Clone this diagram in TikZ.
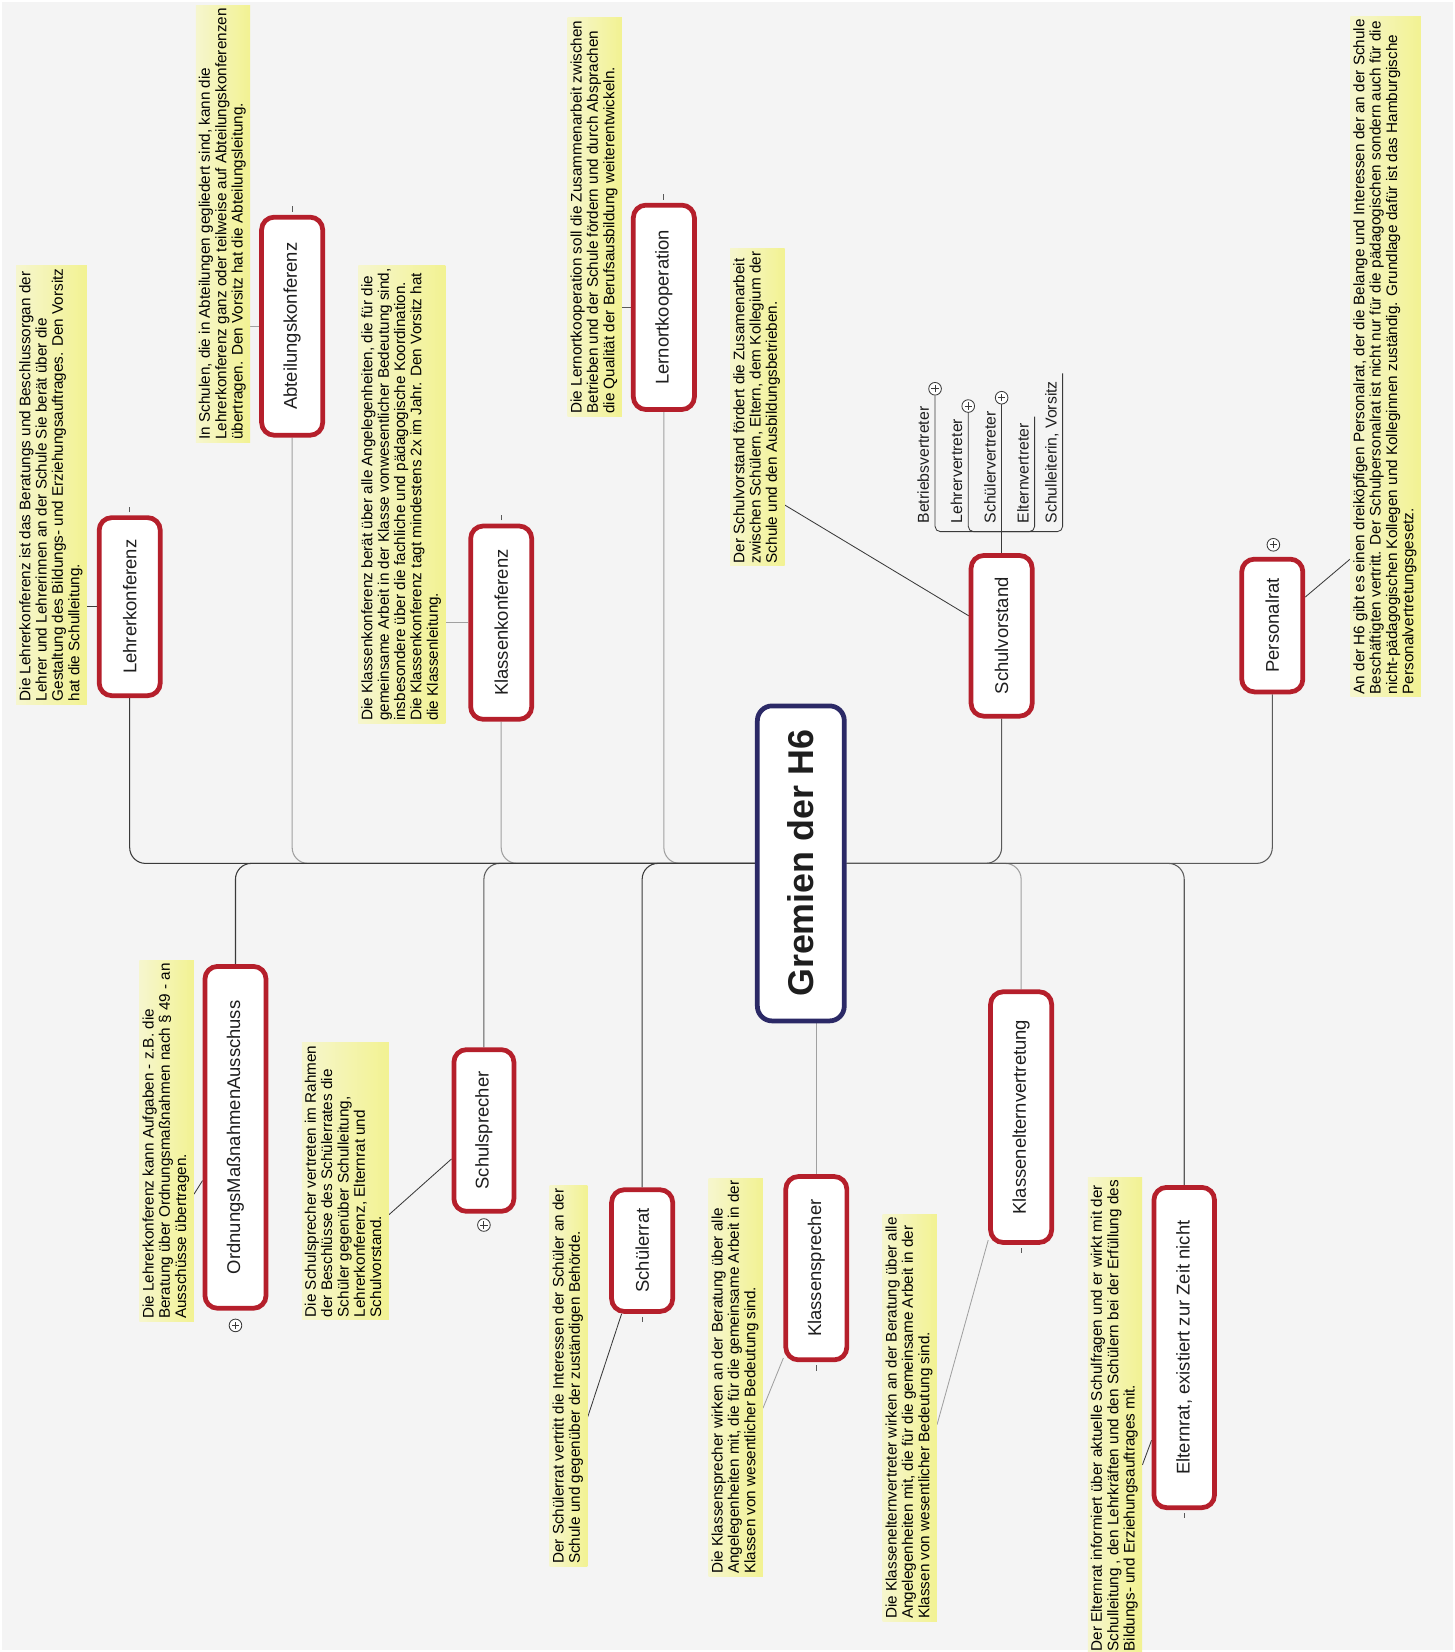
\documentclass[tikz,border=0pt]{standalone}
\usepackage{fontspec}
\setmainfont{Liberation Sans}
\usepackage{graphicx}
\definecolor{bgc}{HTML}{F4F4F4}
\definecolor{redc}{HTML}{B51F2B}
\definecolor{navyc}{HTML}{2B2966}
\definecolor{noteL}{HTML}{F6F6CE}
\definecolor{noteR}{HTML}{F2F292}
\definecolor{darkln}{HTML}{3A3A3A}
\definecolor{grayln}{HTML}{A0A0A0}
\definecolor{midln}{HTML}{5A5A5A}
\definecolor{txtc}{HTML}{1E1E1E}
\pgfdeclarelayer{back}
\pgfsetlayers{back,main}
\newcommand{\vtxt}[1]{\rotatebox{90}{\begin{tabular}{@{}l@{}}#1\end{tabular}}}
\newcommand{\vlab}[1]{\rotatebox{90}{#1}}
\begin{document}
\begin{tikzpicture}[x=1pt,y=-1pt,
  redbox/.style={draw=redc, line width=4.5pt, fill=white, rounded corners=12pt, inner sep=0pt, text=txtc, font=\fontsize{17.5}{20}\selectfont},
  notebox/.style={left color=noteL, right color=noteR, inner sep=2.5pt, text=black, font=\fontsize{14.5}{15.5}\selectfont},
  childtxt/.style={inner sep=0pt, text=txtc, font=\fontsize{15}{17}\selectfont},
  plusnode/.style={circle, draw=darkln, fill=white, line width=0.8pt, minimum size=12pt, inner sep=0pt,
    path picture={\draw[line width=0.8pt] ([xshift=-3.5pt]path picture bounding box.center) -- ([xshift=3.5pt]path picture bounding box.center);
                  \draw[line width=0.8pt] ([yshift=-3.5pt]path picture bounding box.center) -- ([yshift=3.5pt]path picture bounding box.center);}},
  branch/.style={line width=1pt, rounded corners=15pt},
  nlink/.style={line width=0.8pt},
  chl/.style={line width=0.8pt, draw=darkln, rounded corners=5pt},
  stub/.style={line width=0.9pt, draw=midln}]
\useasboundingbox (0,0) rectangle (1381,1568);
\clip (0,0) rectangle (1381,1568);

% central node
\node[redbox, draw=navyc, minimum width=82.5pt, minimum height=299pt, rounded corners=14pt, font=\bfseries\fontsize{34}{38}\selectfont] (gr) at (760.1,819.5) {\vlab{Gremien der H6}};

% red boxes
\node[redbox, minimum width=58pt, minimum height=169pt] (lk) at (123.1,575.8) {\vlab{Lehrerkonferenz}};
\node[redbox, minimum width=58pt, minimum height=207pt] (ak) at (277.3,309.6) {\vlab{Abteilungskonferenz}};
\node[redbox, minimum width=58pt, minimum height=183.5pt] (kk) at (475.7,591) {\vlab{Klassenkonferenz}};
\node[redbox, minimum width=58pt, minimum height=194pt] (lo) at (630.1,291.7) {\vlab{Lernortkooperation}};
\node[redbox, minimum width=58pt, minimum height=152.5pt] (sv) at (950.7,603.5) {\vlab{Schulvorstand}};
\node[redbox, minimum width=58pt, minimum height=126pt] (pr) at (1207.6,593.7) {\vlab{Personalrat}};
\node[redbox, minimum width=58pt, minimum height=324.5pt] (oma) at (223.5,1079.5) {\vlab{OrdnungsMaßnahmenAusschuss}};
\node[redbox, minimum width=57pt, minimum height=153.5pt] (ss) at (459.3,1073) {\vlab{Schulsprecher}};
\node[redbox, minimum width=58pt, minimum height=115.5pt] (sr) at (609.5,1187) {\vlab{Schülerrat}};
\node[redbox, minimum width=58pt, minimum height=174pt] (ks) at (774.8,1203.7) {\vlab{Klassensprecher}};
\node[redbox, minimum width=58pt, minimum height=238pt] (kev) at (969.2,1060.3) {\vlab{Klassenelternvertretung}};
\node[redbox, minimum width=57.5pt, minimum height=304pt] (er) at (1124,1279) {\vlab{Elternrat, existiert zur Zeit nicht}};

% notes
\node[notebox, anchor=south west] (lkn) at (15.2,668.4) {\vtxt{Die Lehrerkonferenz ist das Beratungs und Beschlussorgan der\\Lehrer und Lehrerinnen an der Schule Sie berät über die\\Gestaltung des Bildungs- und Erziehungsauftrages. Den Vorsitz\\hat die Schulleitung.}};
\node[notebox, anchor=south west] (akn) at (185.7,420) {\vtxt{In Schulen, die in Abteilungen gegliedert sind, kann die\\Lehrerkonferenz ganz oder teilweise auf Abteilungskonferenzen\\übertragen. Den Vorsitz hat die Abteilungsleitung.}};
\node[notebox, anchor=south west] (kkn) at (340,687) {\vtxt{Die Klassenkonferenz berät über alle Angelegenheiten, die für die\\gemeinsame Arbeit in der Klasse vonwesentlicher Bedeutung sind,\\insbesondere über die fachliche und pädagogische Koordination.\\Die Klassenkonferenz tagt mindestens 2x im Jahr. Den Vorsitz hat\\die Klassenleitung.}};
\node[notebox, anchor=south west] (lon) at (538.5,395.3) {\vtxt{Die Lernortkooperation soll die Zusammenarbeit zwischen\\Betrieben und der Schule fördern und durch Absprachen\\die Qualität der Berufsausbildung weiterentwickeln.}};
\node[notebox, anchor=south west] (svn) at (692.9,537.3) {\vtxt{Der Schulvorstand fördert die Zusamenarbeit\\zwischen Schülern, Eltern, dem Kollegium der\\Schule und den Ausbildungsbetrieben.}};
\node[notebox, anchor=south west] (prn) at (1281.4,661.7) {\vtxt{An der H6 gibt es einen dreiköpfigen Personalrat, der die Belange und Interessen der an der Schule\\Beschäftigten vertritt. Der Schulpersonalrat ist nicht nur für die pädagogischen sondern auch für die\\nicht-pädagogischen Kollegen und Kolleginnen zuständig. Grundlage dafür ist das Hamburgische\\Personalvertretungsgesetz.}};
\node[notebox, anchor=south west] (omn) at (132.2,1254.5) {\vtxt{Die Lehrerkonferenz kann Aufgaben - z.B. die\\Beratung über Ordnungsmaßnahmen nach § 49 - an\\Ausschüsse übertragen.}};
\node[notebox, anchor=south west] (ssn) at (286.3,1252.9) {\vtxt{Die Schulsprecher vertreten im Rahmen\\der Beschlüsse des Schülerrates die\\Schüler gegenüber Schulleitung,\\Lehrerkonferenz, Elternrat und\\Schulvorstand.}};
\node[notebox, anchor=south west] (srn) at (521.4,1487) {\vtxt{Der Schülerrat vertritt die Interessen der Schüler an der\\Schule und gegenüber der zuständigen Behörde.}};
\node[notebox, anchor=south west] (ksn) at (672.3,1496.5) {\vtxt{Die Klassensprecher wirken an der Beratung über alle\\Angelegenheiten mit, die für die gemeinsame Arbeit in der\\Klassen von wesentlicher Bedeutung sind.}};
\node[notebox, anchor=south west] (kevn) at (837.5,1539.2) {\vtxt{Die Klassenelternvertreter wirken an der Beratung über alle\\Angelegenheiten mit, die für die gemeinsame Arbeit in der\\Klassen von wesentlicher Bedeutung sind.}};
\node[notebox, anchor=north west] (ern) at (1032.4,1117.4) {\vtxt{Der Elternrat informiert über aktuelle Schulfragen und er wirkt mit der\\Schulleitung , den Lehrkräften und den Schülern bei der Erfüllung des\\Bildungs- und Erziehungsauftrages mit.}};

% plus markers
\node[plusnode] (ppr) at (1208.6,517.1) {};
\node[plusnode] (poma) at (223.5,1258) {};
\node[plusnode] (pss) at (459.3,1162.7) {};
\node[plusnode] (p1) at (887.5,369) {};
\node[plusnode] (p2) at (919,385.4) {};
\node[plusnode] (p3) at (950.7,377.5) {};

% Schulvorstand children
\node[childtxt, anchor=south east] (c1) at (887,497) {\vlab{\strut Betriebsvertreter}};
\node[childtxt, anchor=south east] (c2) at (918.5,497) {\vlab{\strut Lehrervertreter}};
\node[childtxt, anchor=south east] (c3) at (950.2,497) {\vlab{\strut Schülervertreter}};
\node[childtxt, anchor=south east] (c4) at (981.5,497) {\vlab{\strut Elternvertreter}};
\node[childtxt, anchor=south east] (c5) at (1008.1,497) {\vlab{\strut Schulleiterin, Vorsitz}};
\coordinate (svbar) at (950.7,504.6);
\coordinate (c4end) at (982,395.5);
\coordinate (c5end) at (1008.6,354.3);

\begin{pgfonlayer}{back}
\fill[white] (0,0) rectangle (1381,1568);
\fill[bgc] (2,2) rectangle (1379,1566);
% branches
\draw[branch, grayln] (gr.west) -| (ak.south);
\draw[branch, grayln] (gr.west) -| (kk.south);
\draw[branch, grayln] (gr.west) -| (lo.south);
\draw[branch, grayln] (gr.south -| ks.north) -- (ks.north);
\draw[branch, grayln] (gr.east) -| (kev.north);
\draw[branch, midln] (gr.east) -| (pr.south);
\draw[branch, midln] (gr.east) -| (er.north);
\draw[branch, midln] (gr.east) -| (sv.south);
\draw[branch, midln] (gr.west) -| (ss.north);
\draw[branch, darkln] (gr.west) -| (sr.north);
\draw[branch, darkln] (gr.west) -| (oma.north);
\draw[branch, darkln] (gr.west) -| (lk.south);
% note links
\draw[nlink, darkln] (lkn.east |- lk.west) -- (lk.west);
\draw[nlink, grayln] (akn.east |- ak.west) -- (ak.west);
\draw[nlink, grayln] (kkn.east |- kk.west) -- (kk.west);
\draw[nlink, midln] (lon.east |- lo.west) -- (lo.west);
\draw[nlink, darkln] ([yshift=58pt]svn.south east) -- ([yshift=19pt]sv.west);
\draw[nlink, darkln] ([yshift=131pt]prn.south west) -- ([yshift=27pt]pr.east);
\draw[nlink, darkln] ([yshift=121pt]omn.south east) -- ([yshift=-41pt]oma.west);
\draw[nlink, darkln] ([yshift=100pt]ssn.south east) -- ([yshift=-27pt]ss.west);
\draw[nlink, darkln] ([yshift=142pt]srn.south east) -- ([xshift=-19.5pt]sr.south);
\draw[nlink, grayln] ([yshift=160pt]ksn.south east) -- ([yshift=4pt]ks.south west);
\draw[nlink, grayln] ([yshift=187pt]kevn.south east) -- ([yshift=4.5pt]kev.south west);
\draw[nlink, darkln] ([yshift=-273pt]ern.north east) -- ([yshift=-88pt]er.west);
% collapse stubs
\draw[stub] ([yshift=3pt]lk.north) -- ++(0,-5);
\draw[stub] ([yshift=3pt]ak.north) -- ++(0,-5);
\draw[stub] ([yshift=3pt]kk.north) -- ++(0,-5);
\draw[stub] ([yshift=3pt]lo.north) -- ++(0,-5);
\draw[stub] ([yshift=-3pt]sr.south) -- ++(0,5);
\draw[stub] ([yshift=-3pt]ks.south) -- ++(0,5);
\draw[stub] ([yshift=-3pt]kev.south) -- ++(0,5);
\draw[stub] ([yshift=-3pt]er.south) -- ++(0,5);
% Schulvorstand children
\draw[chl] (sv.north) -- (p3.south);
\draw[chl] (svbar) -| (p1.south);
\draw[chl] (svbar) -| (p2.south);
\draw[chl] (svbar) -| (c4end);
\draw[chl] (svbar) -| (c5end);
\end{pgfonlayer}
\end{tikzpicture}
\end{document}
